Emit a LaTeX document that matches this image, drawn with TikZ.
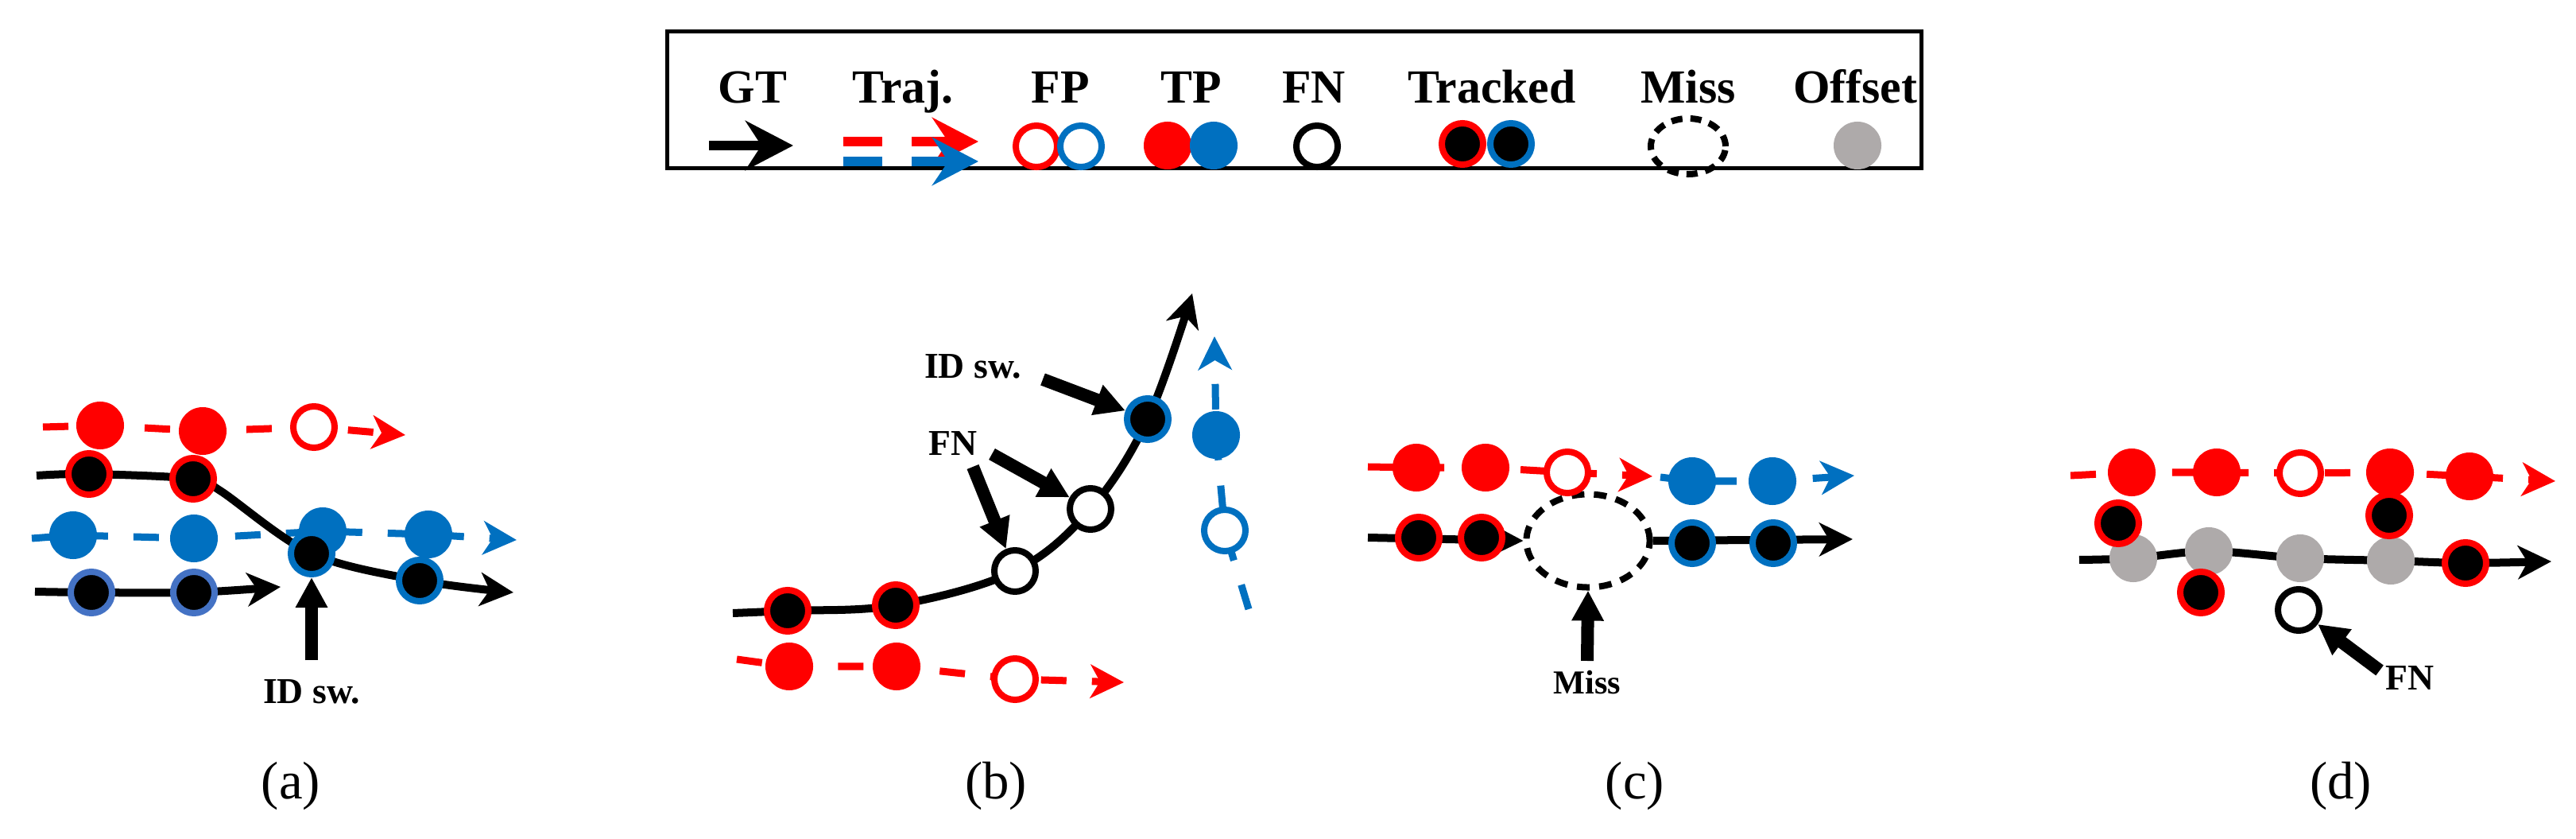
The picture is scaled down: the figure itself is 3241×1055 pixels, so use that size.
\documentclass[tikz,border=0pt]{standalone}
\usepackage{fontspec}
\setmainfont{Liberation Serif}
\usetikzlibrary{arrows.meta,shapes.geometric}
\definecolor{tred}{HTML}{FF0000}
\definecolor{tblue}{HTML}{0070C0}
\definecolor{lblue}{HTML}{4472C4}
\definecolor{tgray}{HTML}{AEAAAA}
\tikzset{
  pt/.style={circle,inner sep=0pt,minimum size=0.6cm},
  tpr/.style={pt,fill=tred},
  tpb/.style={pt,fill=tblue},
  fpr/.style={pt,draw=tred,fill=white,line width=0.08cm,minimum size=0.52cm},
  fpb/.style={pt,draw=tblue,fill=white,line width=0.08cm,minimum size=0.52cm},
  fn/.style={pt,draw=black,fill=white,line width=0.08cm,minimum size=0.52cm},
  trr/.style={pt,draw=tred,fill=black,line width=0.08cm,minimum size=0.52cm},
  trb/.style={pt,draw=tblue,fill=black,line width=0.08cm,minimum size=0.52cm},
  trl/.style={pt,draw=lblue,fill=black,line width=0.08cm,minimum size=0.52cm},
  off/.style={pt,fill=tgray},
  gt/.style={line width=0.1cm,-{Stealth[length=0.42cm,width=0.42cm,inset=0.12cm]}},
  rtraj/.style={tred,line width=0.09cm,dash pattern=on 0.32cm off 0.32cm,-{Stealth[length=0.42cm,width=0.42cm,inset=0.12cm]}},
  btraj/.style={rtraj,tblue},
  big/.style={line width=0.16cm,-{Triangle[length=0.38cm,width=0.38cm]}},
  lbl/.style={font=\bfseries\fontsize{13}{13}\selectfont,inner sep=0pt},
  leg/.style={font=\bfseries\fontsize{17}{17}\selectfont,inner sep=0pt,anchor=base},
  sub/.style={font=\fontsize{19}{19}\selectfont,inner sep=0pt},
}
\begin{document}
\begin{tikzpicture}[x=0.01cm,y=-0.01cm]
\useasboundingbox (0,0) rectangle (3241,1055);
% ---------- legend ----------
\node[draw,line width=0.05cm,minimum width=15.77cm,minimum height=1.72cm,inner sep=0pt,anchor=north west] (box) at (837,37) {};
\foreach \t/\x/\n in {GT/947/lgt,Traj./1136/ltr,FP/1334/lfp,TP/1499/ltp,FN/1653/lfn,Tracked/1877/ltk,Miss/2124/lms,Offset/2334/lof}
  \node[leg] (\n) at (\x,130) {\t};
\coordinate (g0) at (892,183); \coordinate (g1) at (998,183);
\draw[line width=0.12cm,-{Stealth[length=0.6cm,width=0.62cm,inset=0.2cm]}] (g0) -- (g1);
\coordinate (r0) at (1061,178); \coordinate (r1) at (1110,178);
\coordinate (r2) at (1147,178); \coordinate (r3) at (1231,178);
\coordinate (s0) at (1061,203); \coordinate (s1) at (1110,203);
\coordinate (s2) at (1147,203); \coordinate (s3) at (1231,203);
\draw[tred,line width=0.12cm] (r0) -- (r1);
\draw[tred,line width=0.12cm,-{Stealth[length=0.58cm,width=0.6cm,inset=0.2cm]}] (r2) -- (r3);
\draw[tblue,line width=0.12cm] (s0) -- (s1);
\draw[tblue,line width=0.12cm,-{Stealth[length=0.58cm,width=0.6cm,inset=0.2cm]}] (s2) -- (s3);
\node[fpr] (lf1) at (1304,184) {};
\node[fpb] (lf2) at (1360,184) {};
\node[tpr] (lt1) at (1469,183) {};
\node[tpb] (lt2) at (1527,183) {};
\node[fn] (ln) at (1657,184) {};
\node[trr] (lk1) at (1840,181) {};
\node[trb] (lk2) at (1901,181) {};
\node[draw,ellipse,line width=0.08cm,dash pattern=on 0.14cm off 0.1cm,minimum width=0.94cm,minimum height=0.7cm,inner sep=0pt] (lm) at (2124,184) {};
\node[off] (lo) at (2337,183) {};
% ---------- (a) ----------
\coordinate (a1s) at (54,537); \coordinate (a1e) at (510,547);
\coordinate (a2s) at (46,598); \coordinate (a2c) at (277,617); \coordinate (a2e) at (646,745);
\coordinate (a3s) at (40,677); \coordinate (a3e) at (650,679);
\coordinate (a4s) at (44,744); \coordinate (a4e) at (353,738);
\coordinate (aA) at (392,830);
\draw[rtraj] (a1s) -- (126,535) -- (255,542) -- (395,537) -- (a1e);
\draw[btraj] (a3s) -- (92,673) -- (244,677) -- (406,668) -- (539,672) -- (a3e);
\draw[gt] plot[smooth,tension=0.55] coordinates {(a2s) (112,596) (243,602) (a2c) (392,696) (528,730) (a2e)};
\draw[gt] plot[smooth] coordinates {(a4s) (115,745) (244,745) (a4e)};
\node[tpr] (ar1) at (126,535) {};
\node[tpr] (ar2) at (255,542) {};
\node[fpr] (ar3) at (395,537) {};
\node[tpb] (ab1) at (92,673) {};
\node[tpb] (ab2) at (244,677) {};
\node[tpb] (ab3) at (406,668) {};
\node[tpb] (ab4) at (539,672) {};
\node[trr] (ak1) at (112,596) {};
\node[trr] (ak2) at (243,602) {};
\node[trb] (ak3) at (392,696) {};
\node[trb] (ak4) at (528,730) {};
\node[trl] (ak5) at (115,745) {};
\node[trl] (ak6) at (244,745) {};
\draw[big] (aA) -- (ak3);
\node[lbl] (aL) at (392,870) {ID sw.};
\node[sub] (sa) at (366,988) {(a)};
% ---------- (b) ----------
\coordinate (b0) at (922,771); \coordinate (b9) at (1500,369);
\coordinate (c0) at (927,829); \coordinate (c9) at (1414,858);
\coordinate (d0) at (1571,766); \coordinate (d9) at (1528,423);
\draw[rtraj] (c0) -- (993,838) -- (1128,838) -- (1277,854) -- (c9);
\draw[btraj] (d0) -- (1541,667) -- (1530,547) -- (d9);
\draw[gt] plot[smooth,tension=0.6] coordinates {(b0) (991,768) (1127,761) (1277,718) (1372,640) (1444,527) (b9)};
\node[trr] (bk1) at (991,768) {};
\node[trr] (bk2) at (1127,761) {};
\node[fn] (bn1) at (1277,718) {};
\node[fn] (bn2) at (1372,640) {};
\node[trb] (bk3) at (1444,527) {};
\node[tpr] (br1) at (993,838) {};
\node[tpr] (br2) at (1128,838) {};
\node[fpr] (br3) at (1277,854) {};
\node[fpb] (bb1) at (1541,667) {};
\node[tpb] (bb2) at (1530,547) {};
\node[lbl] (bI) at (1224,461) {ID sw.};
\node[lbl] (bF) at (1199,558) {FN};
\coordinate (bi0) at (1312,477);
\coordinate (bf1) at (1224,587);
\coordinate (bf2) at (1248,571);
\draw[big] (bi0) -- (bk3);
\draw[big] (bf1) -- (bn1);
\draw[big] (bf2) -- (bn2);
\node[sub] (sb) at (1253,988) {(b)};
% ---------- (c) ----------
\coordinate (e0) at (1721,587); \coordinate (e9) at (2079,599);
\coordinate (f0) at (2089,600); \coordinate (f9) at (2333,598);
\coordinate (h0) at (1721,676); \coordinate (h9) at (2331,678);
\coordinate (cA) at (1997,831);
\draw[rtraj] (e0) -- (1782,588) -- (1869,588) -- (1972,594) -- (e9);
\draw[btraj] (f0) -- (2129,605) -- (2230,605) -- (f9);
\node[draw,ellipse,line width=0.08cm,dash pattern=on 0.16cm off 0.12cm,fill=white,minimum width=1.55cm,minimum height=1.17cm,inner sep=0pt] (cm) at (1998,680) {};
\draw[gt] (h0) -- (cm.west);
\draw[gt] (cm.east) -- (h9);
\node[tpr] (cr1) at (1782,588) {};
\node[tpr] (cr2) at (1869,588) {};
\node[fpr] (cr3) at (1972,594) {};
\node[tpb] (cb1) at (2129,605) {};
\node[tpb] (cb2) at (2230,605) {};
\node[trr] (ck1) at (1785,676) {};
\node[trr] (ck2) at (1864,676) {};
\node[trb] (ck3) at (2129,683) {};
\node[trb] (ck4) at (2231,683) {};
\draw[big] (cA) -- (cm.south);
\node[lbl,font=\bfseries\fontsize{12}{12}\selectfont] (cL) at (1997,858) {Miss};
\node[sub] (sc) at (2057,988) {(c)};
% ---------- (d) ----------
\coordinate (i0) at (2605,598); \coordinate (i9) at (3215,605);
\coordinate (j0) at (2616,704); \coordinate (j9) at (3210,706);
\coordinate (dA) at (2994,843);
\draw[rtraj] (i0) -- (2682,594) -- (2789,594) -- (2894,595) -- (3007,594) -- (3107,599) -- (i9);
\draw[gt] plot[smooth,tension=0.5] coordinates {(j0) (2684,702) (2779,693) (2894,702) (3008,705) (3102,708) (j9)};
\node[tpr] (dr1) at (2682,594) {};
\node[tpr] (dr2) at (2789,594) {};
\node[fpr] (dr3) at (2894,595) {};
\node[tpr] (dr4) at (3007,594) {};
\node[tpr] (dr5) at (3107,599) {};
\node[off] (do1) at (2684,702) {};
\node[off] (do2) at (2779,693) {};
\node[off] (do3) at (2894,702) {};
\node[off] (do4) at (3008,705) {};
\node[trr] (dk1) at (2665,658) {};
\node[trr] (dk2) at (2769,745) {};
\node[trr] (dk3) at (3006,648) {};
\node[trr] (dk4) at (3102,708) {};
\node[fn] (dn) at (2892,767) {};
\draw[big] (dA) -- (dn);
\node[lbl] (dL) at (3032,853) {FN};
\node[sub] (sd) at (2945,988) {(d)};
\end{tikzpicture}
\end{document}
